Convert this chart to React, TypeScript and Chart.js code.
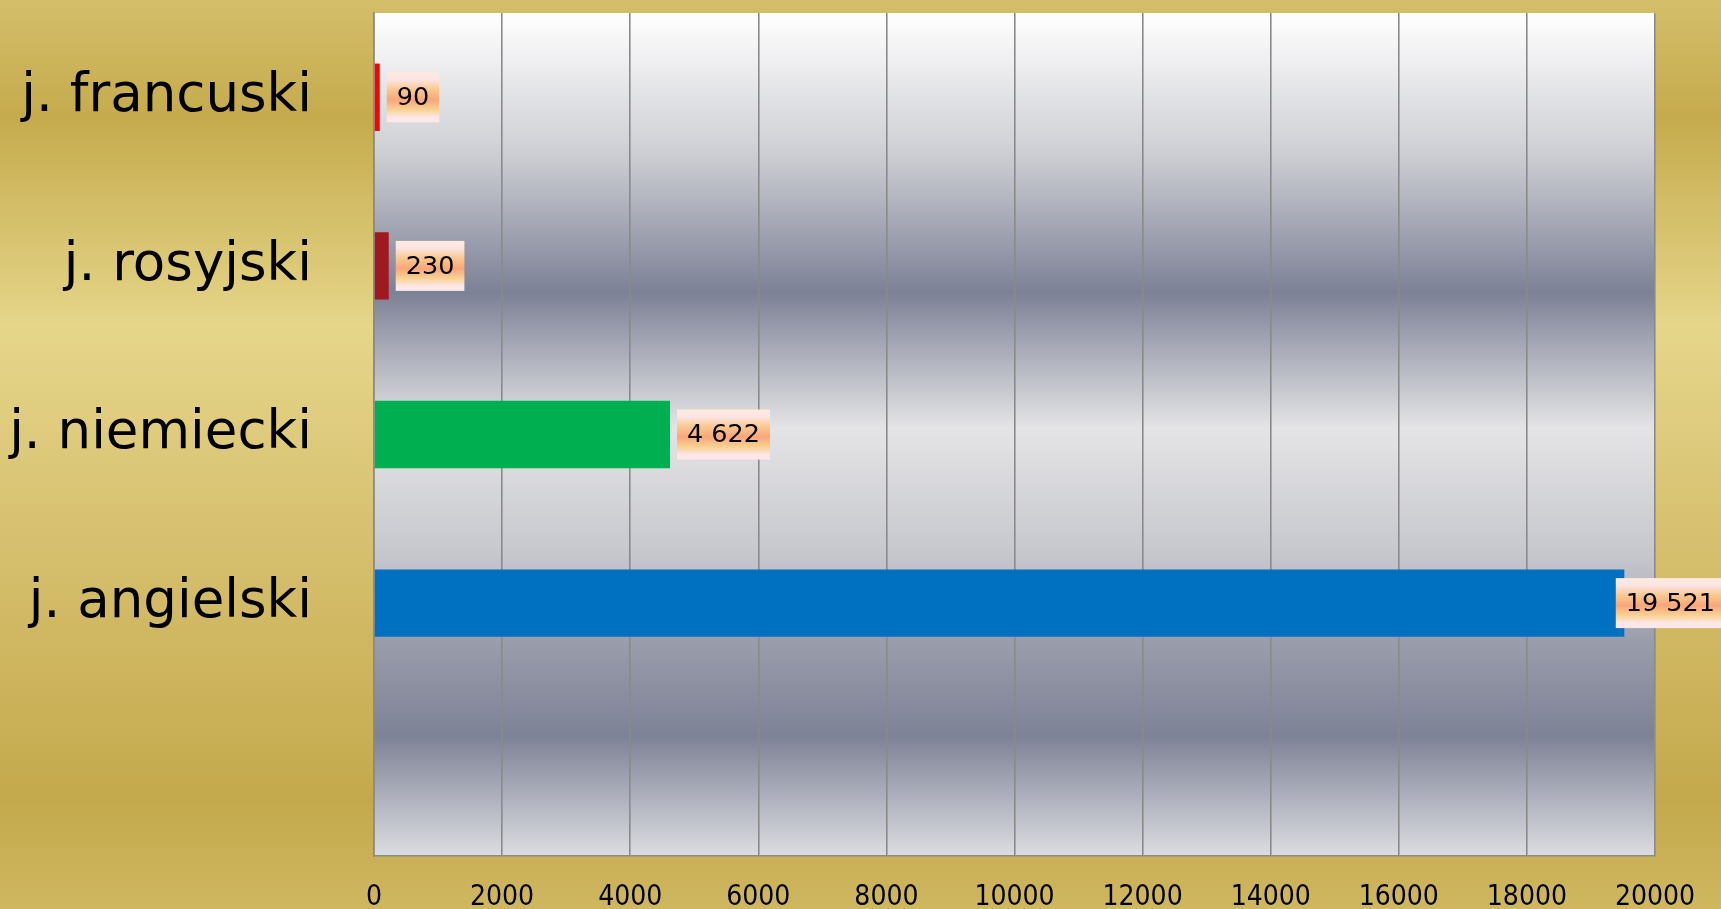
import React, { useEffect, useRef } from "react";
import { Chart, registerables } from "chart.js";

Chart.register(...registerables);

const categories = ["j. francuski", "j. rosyjski", "j. niemiecki", "j. angielski", ""];
const values: (number | null)[] = [90, 230, 4622, 19521, null];
const barColors = ["#FF0000", "#A01820", "#00B050", "#0070C0", "#000000"];
const xMin = 0;
const xMax = 20000;
const xStep = 2000;

const W = 1721;
const H = 909;

function fmt(v: number): string {
  return String(v).replace(/\B(?=(\d{3})+(?!\d))/g, " ");
}

const bgPlugin = {
  id: "bgPlugin",
  beforeDraw(chart: any) {
    const { ctx, chartArea } = chart;
    ctx.save();
    const g = ctx.createLinearGradient(0, 0, 0, chart.height);
    g.addColorStop(0, "#D4BE6A");
    g.addColorStop(0.13, "#C5AB4D");
    g.addColorStop(0.36, "#E6D68A");
    g.addColorStop(0.57, "#D8C272");
    g.addColorStop(0.88, "#C4A94C");
    g.addColorStop(1, "#CFB760");
    ctx.fillStyle = g;
    ctx.fillRect(0, 0, chart.width, chart.height);

    const { left, top, right, bottom } = chartArea;
    const p = ctx.createLinearGradient(0, top, 0, bottom);
    p.addColorStop(0, "#FFFFFF");
    p.addColorStop(0.163, "#CFD0D5");
    p.addColorStop(0.332, "#7D8196");
    p.addColorStop(0.4, "#A9ACB8");
    p.addColorStop(0.493, "#E4E4E6");
    p.addColorStop(0.649, "#C5C6CC");
    p.addColorStop(0.744, "#9A9DAB");
    p.addColorStop(0.858, "#7E8296");
    p.addColorStop(1, "#DCDDE1");
    ctx.fillStyle = p;
    ctx.fillRect(left, top, right - left, bottom - top);
    ctx.restore();
  },
};

const labelPlugin = {
  id: "labelPlugin",
  afterDatasetsDraw(chart: any) {
    const { ctx } = chart;
    const meta = chart.getDatasetMeta(0);
    ctx.save();
    ctx.font = "25.5px 'DejaVu Sans', sans-serif";
    ctx.textBaseline = "middle";
    ctx.textAlign = "left";
    meta.data.forEach((bar: any, i: number) => {
      const v = values[i];
      if (v === null || v === undefined) return;
      const txt = fmt(v);
      const tw = ctx.measureText(txt).width;
      const bw = tw + 20;
      const bh = 50;
      let bx = bar.x + 7;
      bx = Math.min(bx, chart.width - bw + 4);
      const by = bar.y - bh / 2;
      const g = ctx.createLinearGradient(0, by, 0, by + bh);
      g.addColorStop(0, "#FDEBDC");
      g.addColorStop(0.14, "#FDE4E6");
      g.addColorStop(0.35, "#FAC88E");
      g.addColorStop(0.55, "#F9A67A");
      g.addColorStop(0.75, "#F9D292");
      g.addColorStop(0.9, "#FDE6E6");
      g.addColorStop(1, "#FDE8EC");
      ctx.fillStyle = g;
      ctx.fillRect(bx, by, bw, bh);
      ctx.fillStyle = "#000000";
      ctx.fillText(txt, bx + 10, bar.y + 1);
    });
    ctx.restore();
  },
};

export default function App() {
  const ref = useRef<HTMLCanvasElement | null>(null);

  useEffect(() => {
    document.body.style.margin = "0";
    const canvas = ref.current;
    if (!canvas) return;
    const chart = new Chart(canvas, {
      type: "bar",
      data: {
        labels: categories,
        datasets: [
          {
            data: values as any,
            backgroundColor: barColors,
            borderWidth: 0,
            barPercentage: 0.4,
            categoryPercentage: 1,
          },
        ],
      },
      options: {
        indexAxis: "y",
        responsive: false,
        animation: false,
        devicePixelRatio: 1,
        layout: { padding: { left: 0, top: 13, right: 66, bottom: 0 } },
        plugins: {
          legend: { display: false },
          tooltip: { enabled: false },
          title: { display: false },
        },
        scales: {
          x: {
            type: "linear",
            min: xMin,
            max: xMax,
            ticks: {
              stepSize: xStep,
              color: "#000000",
              padding: 25,
              font: { family: "'DejaVu Sans Condensed', 'DejaVu Sans', sans-serif", size: 28 },
              maxRotation: 0,
              callback: (v: any) => String(v),
            },
            grid: {
              color: "#8A8A8A",
              lineWidth: 1.6,
              drawTicks: false,
            },
            border: { display: true, color: "#8A8A8A", width: 1.6 },
            afterFit: (scale: any) => {
              scale.height = 53;
              scale.paddingLeft = 0;
              scale.paddingRight = 0;
              scale.paddingTop = 0;
              scale.paddingBottom = 0;
            },
          },
          y: {
            type: "category",
            ticks: {
              color: "#000000",
              padding: 62,
              font: { family: "'DejaVu Sans', sans-serif", size: 53 },
            },
            grid: { display: false, drawTicks: false },
            border: { display: true, color: "#8A8A8A", width: 1.6 },
            afterFit: (scale: any) => {
              scale.width = 374;
              scale.paddingLeft = 0;
              scale.paddingRight = 0;
              scale.paddingTop = 0;
              scale.paddingBottom = 0;
            },
          },
        },
      },
      plugins: [bgPlugin, labelPlugin],
    });
    return () => chart.destroy();
  }, []);

  return (
    <div style={{ width: W, height: H }}>
      <canvas ref={ref} width={W} height={H} style={{ display: "block" }} />
    </div>
  );
}
